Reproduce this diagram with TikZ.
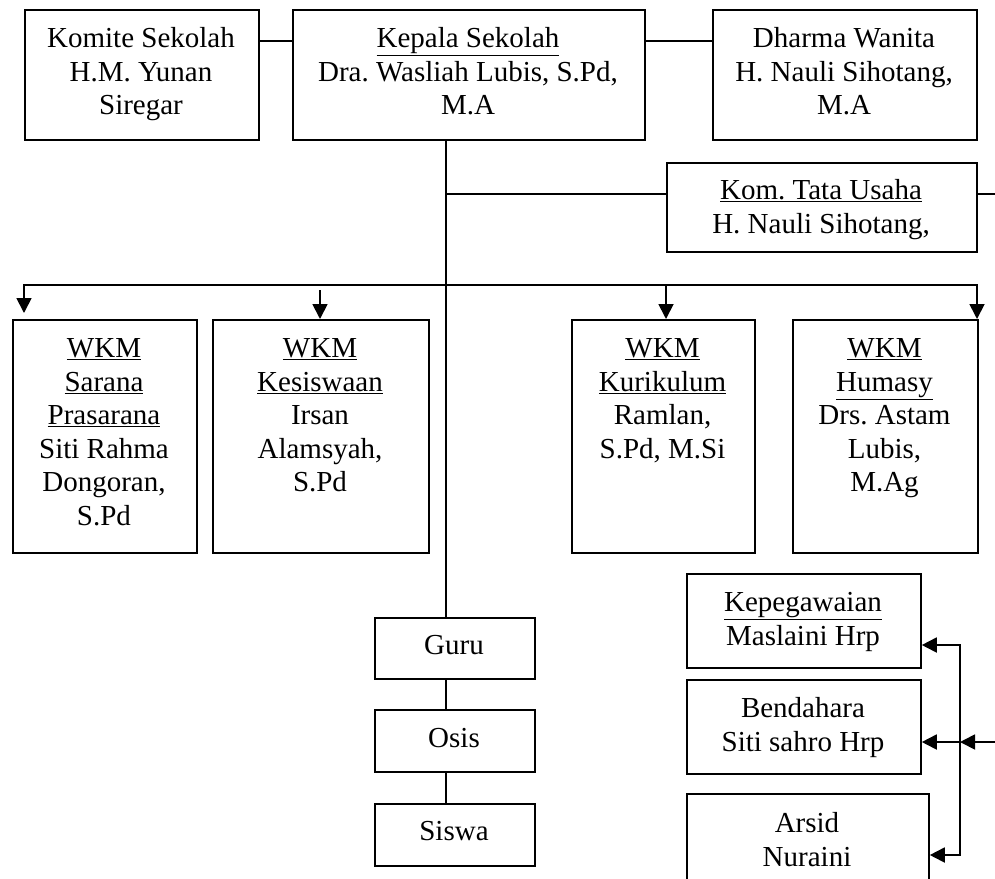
\documentclass[tikz,border=0pt]{standalone}
\usepackage{fontspec}
\setmainfont{Liberation Serif}
\usetikzlibrary{arrows.meta}
\frenchspacing
\begin{document}
\begin{tikzpicture}[x=1pt,y=-1pt,line width=1.8pt,
  box/.style={draw,line width=1.8pt,inner sep=0pt,anchor=north west},
  txt/.style={inner sep=0pt,anchor=north,align=center,font=\fontsize{29}{33.5}\selectfont},
  arr/.style={-{Triangle[length=15pt,width=15pt]}},
  arrtwo/.style={{Triangle[length=15pt,width=15pt]}-{Triangle[length=15pt,width=15pt]}}]
\useasboundingbox (0,0) rectangle (995,878);
\clip (0,0) rectangle (995,878);
% boxes
\node[box,minimum width=234pt,minimum height=130pt] (komite) at (24,9) {};
\node[box,minimum width=352pt,minimum height=130pt] (kepala) at (292,9) {};
\node[box,minimum width=264pt,minimum height=130pt] (dharma) at (712,9) {};
\node[box,minimum width=310pt,minimum height=89pt] (komtu) at (666,162) {};
\node[box,minimum width=184pt,minimum height=233pt] (sarana) at (12,319) {};
\node[box,minimum width=216pt,minimum height=233pt] (kesis) at (212,319) {};
\node[box,minimum width=183pt,minimum height=233pt] (kurik) at (571,319) {};
\node[box,minimum width=185pt,minimum height=233pt] (humas) at (792,319) {};
\node[box,minimum width=160pt,minimum height=61pt] (guru) at (374,617) {};
\node[box,minimum width=160pt,minimum height=62pt] (osis) at (374,709) {};
\node[box,minimum width=160pt,minimum height=62pt] (siswa) at (374,803) {};
\node[box,minimum width=234pt,minimum height=94pt] (kepeg) at (686,573) {};
\node[box,minimum width=234pt,minimum height=94pt] (bend) at (686,679) {};
\node[box,minimum width=242pt,minimum height=110pt] (arsid) at (686,793) {};
% texts
\node[txt] (komiteT) at (141,23.5) {\strut Komite Sekolah\\H.M. Yunan\\Siregar};
\node[txt] (kepalaT) at (468,23.5) {\strut\underline{Kepala Sekolah}\\Dra. Wasliah Lubis, S.Pd,\\M.A};
\node[txt] (dharmaT) at (844,23.5) {\strut Dharma Wanita\\H. Nauli Sihotang,\\M.A};
\node[txt] (komtuT) at (821,175.5) {\strut\underline{Kom. Tata Usaha}\\H. Nauli Sihotang,};
\node[txt] (saranaT) at (104,333.5) {\strut\underline{WKM}\\\underline{Sarana}\\\underline{Prasarana}\\Siti Rahma\\Dongoran,\\S.Pd};
\node[txt] (kesisT) at (320,333.5) {\strut\underline{WKM}\\\underline{Kesiswaan}\\Irsan\\Alamsyah,\\S.Pd};
\node[txt] (kurikT) at (662.5,333.5) {\strut\underline{WKM}\\\underline{Kurikulum}\\Ramlan,\\S.Pd, M.Si};
\node[txt] (humasT) at (884.5,333.5) {\strut\underline{WKM}\\\underline{Humasy}\\Drs. Astam\\Lubis,\\M.Ag};
\node[txt] (guruT) at (454,630.5) {\strut Guru};
\node[txt] (osisT) at (454,723.5) {\strut Osis};
\node[txt] (siswaT) at (454,816.5) {\strut Siswa};
\node[txt] (kepegT) at (803,587.5) {\strut\underline{Kepegawaian}\\Maslaini Hrp};
\node[txt] (bendT) at (803,693.5) {\strut Bendahara\\Siti sahro Hrp};
\node[txt] (arsidT) at (807,808.5) {\strut Arsid\\Nuraini};
% connectors top
\draw ([yshift=-32pt]komite.north east) -- ([yshift=-32pt]kepala.north west);
\draw ([yshift=-32pt]kepala.north east) -- ([yshift=-32pt]dharma.north west);
% trunk
\coordinate (t0) at ([xshift=154pt]kepala.south west);
\draw (t0) -- (t0 |- guru.north);
\draw (t0 |- guru.south) -- (t0 |- osis.north);
\draw (t0 |- osis.south) -- (t0 |- siswa.north);
% branch to tata usaha
\coordinate (b1) at (446,194);
\draw (b1) -- (b1 -| komtu.west);
\coordinate (tuR) at (995,194);
\draw (b1 -| komtu.east) -- (tuR);
% bar to WKM
\coordinate (barL) at (24,285);
\coordinate (barR) at (977,285);
\draw[arrtwo] ([yshift=6pt]barL |- sarana.north) -- (barL) -- (barR) -- (barR |- humas.north);
\coordinate (k2) at (320,290);
\draw[arr] (k2) -- (k2 |- kesis.north);
\coordinate (k3) at (666,285);
\draw[arr] (k3) -- (k3 |- kurik.north);
% right bracket
\coordinate (rTop) at (960,645);
\coordinate (rMid) at (960,742);
\coordinate (rBot) at (960,855);
\coordinate (inR) at (995,742);
\draw[arrtwo] (rTop -| kepeg.east) -- (rTop) -- (rBot) -- (rBot -| arsid.east);
\draw[arr] (rMid) -- (rMid -| bend.east);
\draw[arr] (inR) -- (rMid);
\end{tikzpicture}
\end{document}
